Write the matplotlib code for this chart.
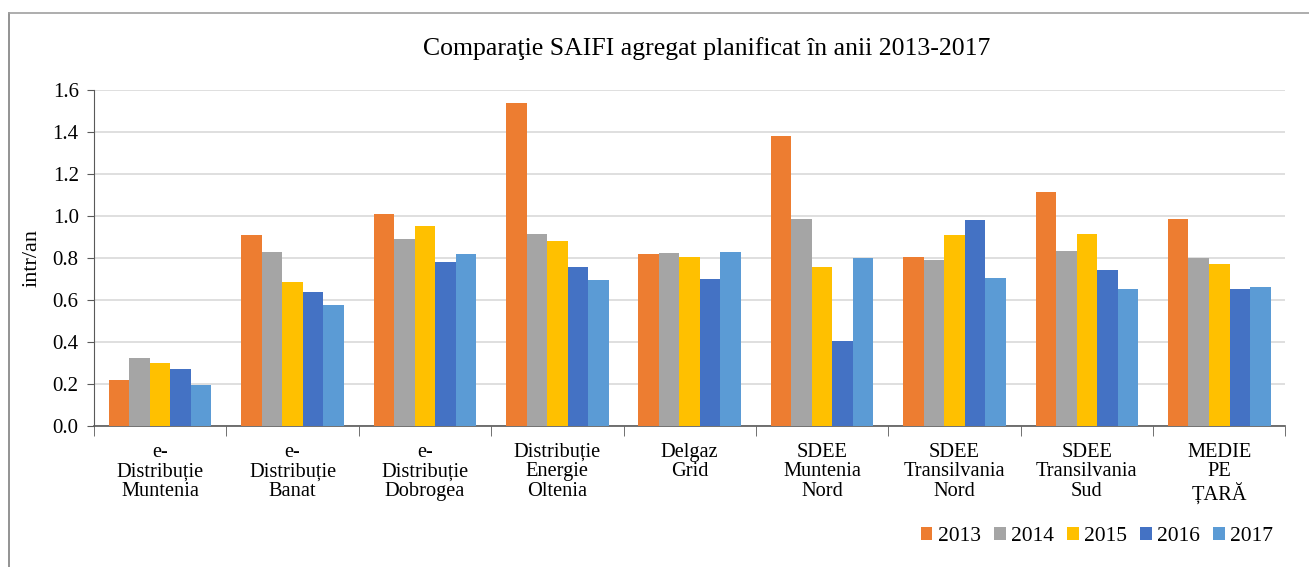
import numpy as np
import matplotlib
matplotlib.use("Agg")
import matplotlib.pyplot as plt
from matplotlib.lines import Line2D

plt.rcParams['font.family'] = ['Liberation Serif', 'DejaVu Serif']

categories = ["e-\nDistribuție\nMuntenia", "e-\nDistribuție\nBanat", "e-\nDistribuție\nDobrogea",
              "Distribuție\nEnergie\nOltenia", "Delgaz\nGrid", "SDEE\nMuntenia\nNord",
              "SDEE\nTransilvania\nNord", "SDEE\nTransilvania\nSud", "MEDIE\nPE\nȚARĂ"]
years = ["2013", "2014", "2015", "2016", "2017"]
v2013 = [0.22, 0.91, 1.01, 1.54, 0.82, 1.38, 0.805, 1.115, 0.985]
v2014 = [0.325, 0.83, 0.89, 0.915, 0.825, 0.985, 0.79, 0.835, 0.80]
v2015 = [0.30, 0.685, 0.95, 0.88, 0.805, 0.755, 0.91, 0.915, 0.77]
v2016 = [0.27, 0.64, 0.78, 0.755, 0.70, 0.405, 0.98, 0.745, 0.65]
v2017 = [0.195, 0.575, 0.82, 0.695, 0.83, 0.80, 0.705, 0.65, 0.66]
series = [v2013, v2014, v2015, v2016, v2017]
colors = ['#ED7D31', '#A5A5A5', '#FFC000', '#4472C4', '#5B9BD5']

fig = plt.figure(figsize=(13.09, 5.67), dpi=100)
ax = fig.add_axes([0.0718, 0.2487, 0.9102, 0.5926])

x = np.arange(len(categories))
w = 0.155
for i, (vals, col) in enumerate(zip(series, colors)):
    ax.bar(x + (i - 2) * w, vals, w, color=col, label=years[i], zorder=3)

ax.set_xlim(-0.5, len(categories) - 0.5)
ax.set_ylim(0, 1.6)
ax.set_yticks(np.arange(0, 1.61, 0.2))
ax.set_yticklabels(["%.1f" % t for t in np.arange(0, 1.61, 0.2)], fontsize=15)
ax.yaxis.grid(True, color='#D9D9D9', linewidth=1.2, zorder=0)
ax.set_xticks(x)
ax.set_xticklabels(categories, fontsize=14.7, linespacing=1.05)
ax.tick_params(axis='x', which='major', length=0, pad=12)
ax.set_xticks(np.arange(-0.5, len(categories), 1), minor=True)
ax.tick_params(axis='x', which='minor', length=7, color='#595959')
ax.tick_params(axis='y', length=5, color='#595959', pad=6)
for s in ['top', 'right']:
    ax.spines[s].set_visible(False)
ax.spines['left'].set_color('#595959')
ax.spines['bottom'].set_color('#595959')
ax.spines['bottom'].set_linewidth(1.2)

ax.set_ylabel("intr/an", fontsize=16, labelpad=8)
fig.text(0.5395, 0.915, "Comparaţie SAIFI agregat planificat în anii 2013-2017",
         ha='center', va='center', fontsize=18.5)

ax.legend(loc='center right', bbox_to_anchor=(1.006, -0.33), ncol=5, frameon=False,
          fontsize=15.5, handlelength=0.55, handleheight=0.55, handletextpad=0.25,
          columnspacing=0.6)

fig.add_artist(Line2D([9 / 1309, 9 / 1309], [0, 1 - 13 / 567], color='#808080', lw=1.2))
fig.add_artist(Line2D([9 / 1309, 1], [1 - 13 / 567, 1 - 13 / 567], color='#A0A0A0', lw=1.2))

fig.savefig("out.png", dpi=100)
